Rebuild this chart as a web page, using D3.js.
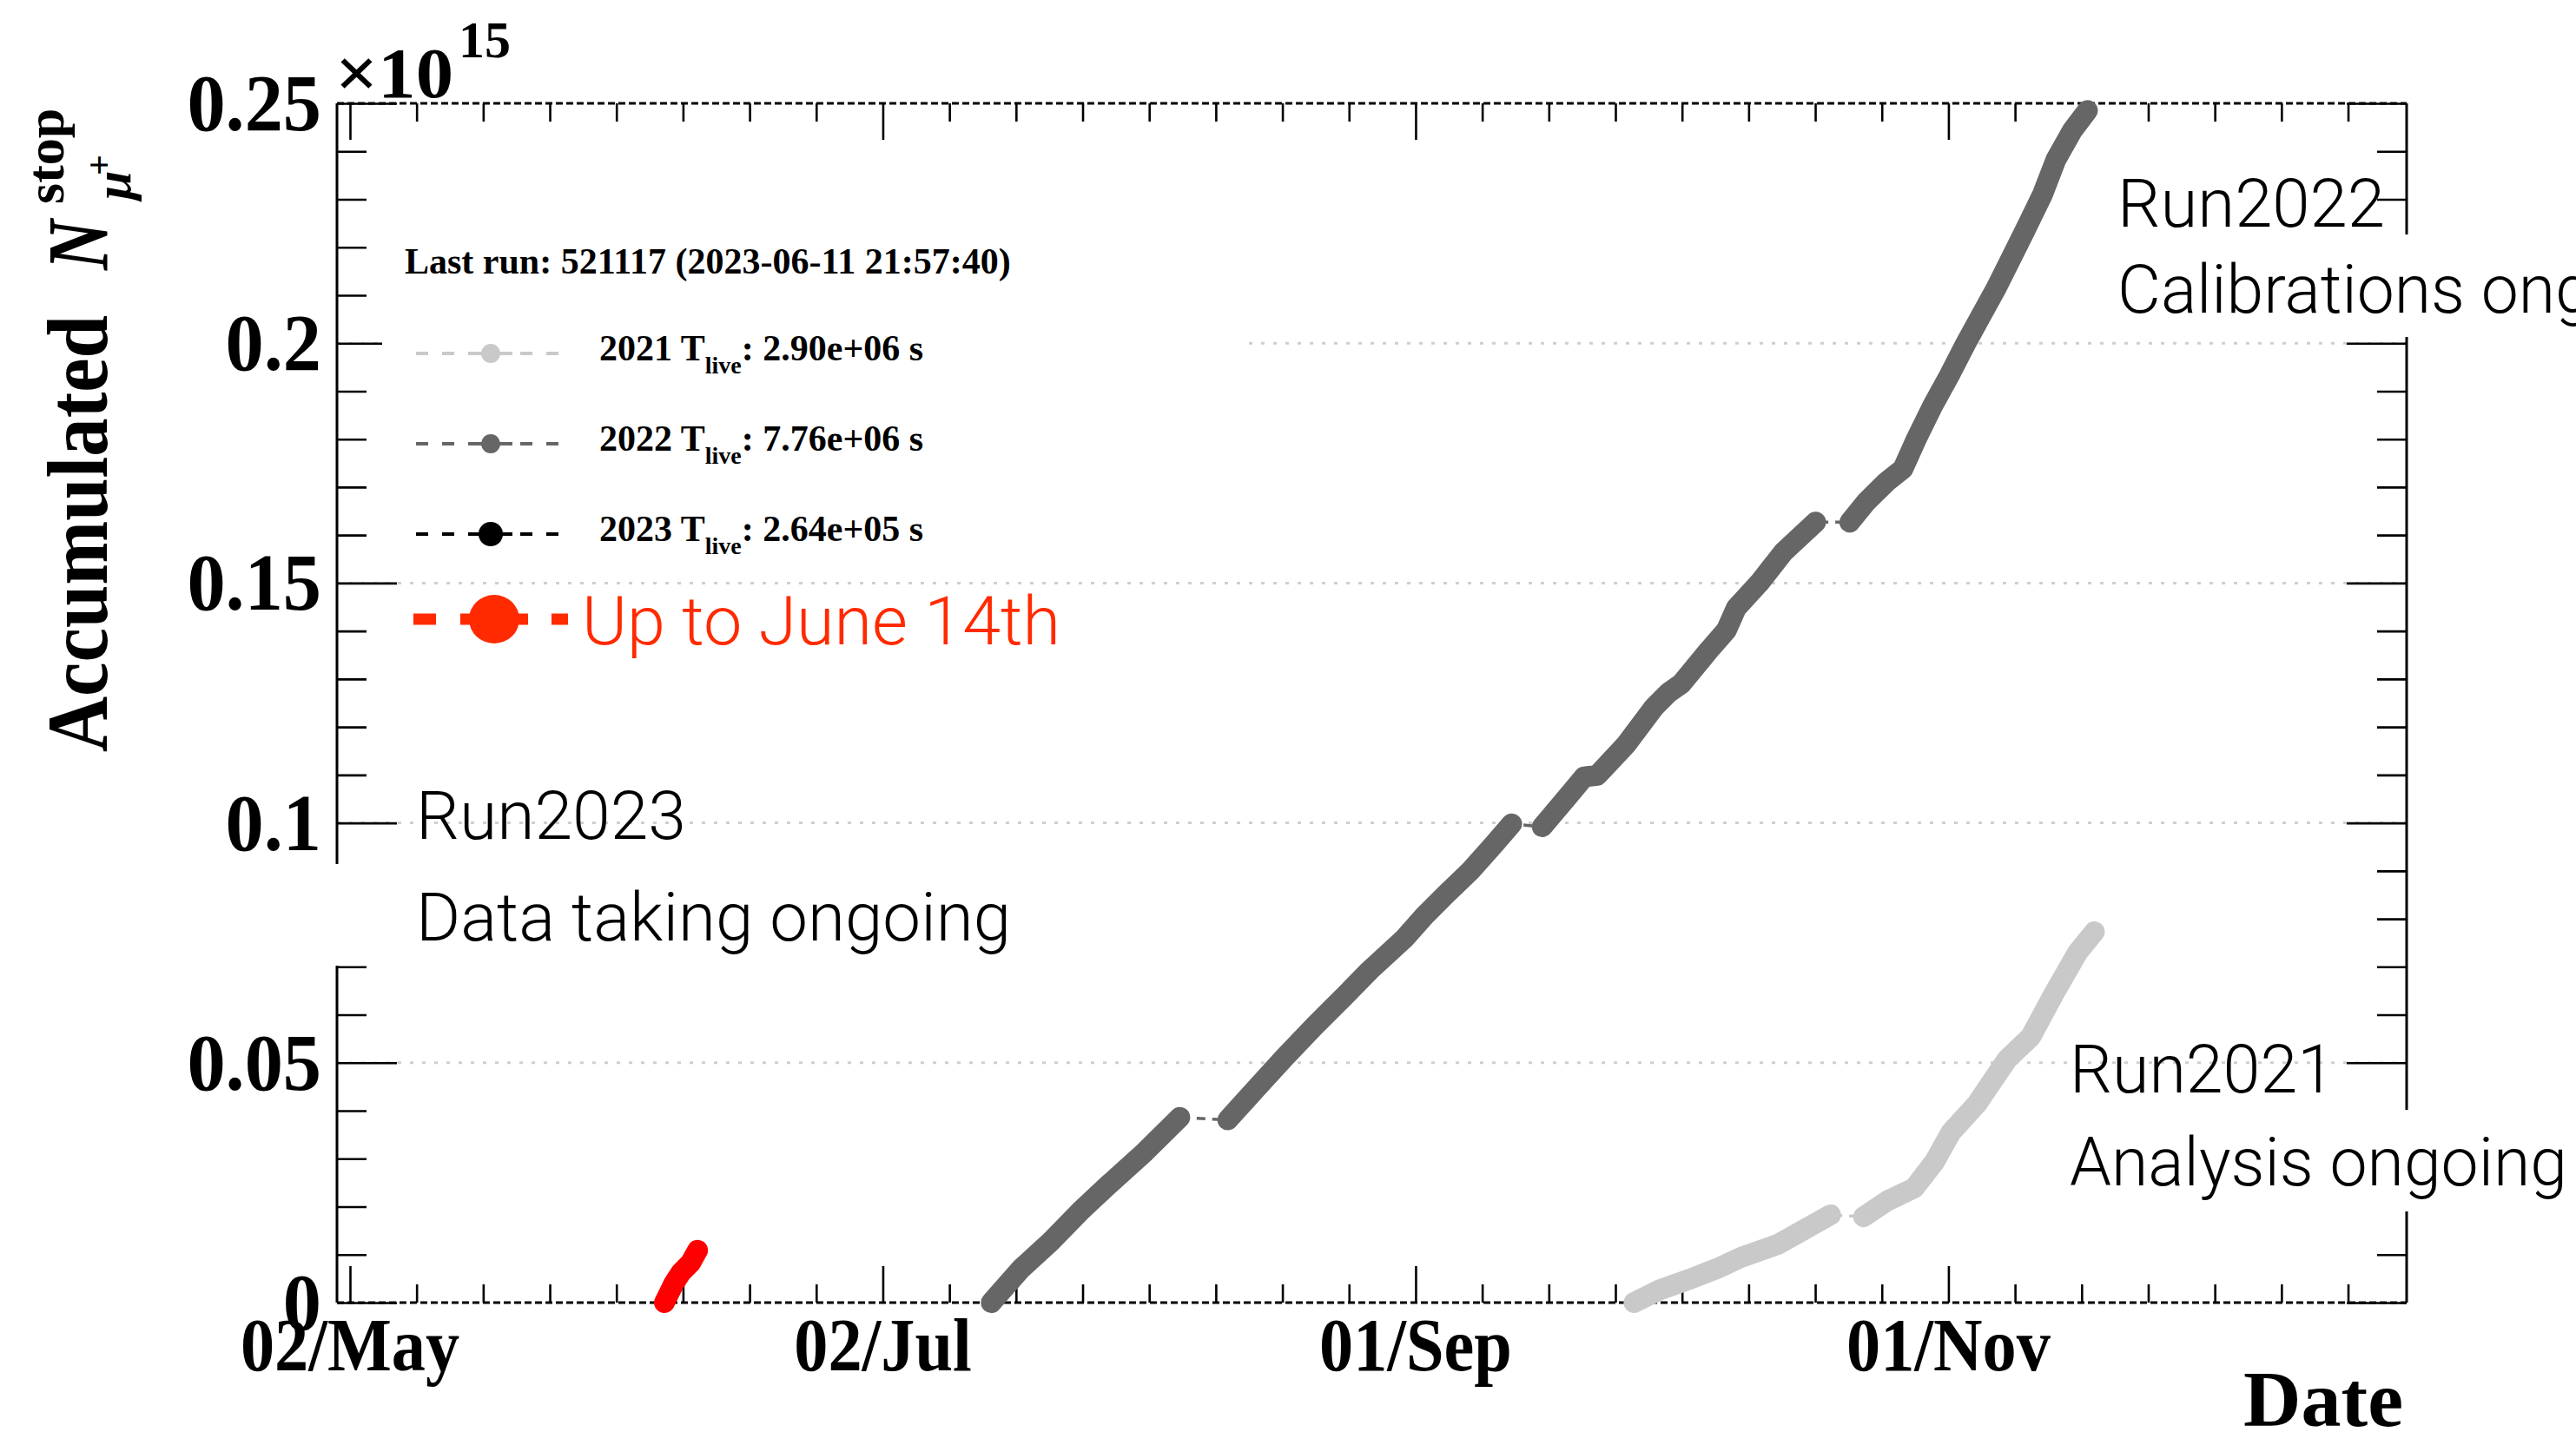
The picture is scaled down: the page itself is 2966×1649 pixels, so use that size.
<!DOCTYPE html>
<html>
<head>
<meta charset="utf-8">
<script src="https://cdn.jsdelivr.net/npm/d3@7"></script>
<style>
  html, body { margin: 0; padding: 0; background: #fff; overflow: hidden; }
  svg { display: block; }
</style>
</head>
<body>
<svg id="chart" width="2966" height="1649"></svg>
<script>
// Accumulated number of stopped mu+ per run year, overlaid on a common calendar.
// Values are in units of 1e15; a null entry marks a break in data taking.

const run2021Dates = ["09-26 00:00", "09-29 00:00", "10-02 10:00", "10-05 12:00", "10-08 05:00",
  "10-12 10:00", "10-15 02:00", "10-18 12:00", null, "10-22 07:00", "10-25 00:00", "10-28 02:00",
  "10-30 10:00", "11-01 07:00", "11-04 07:00", "11-07 17:00", "11-10 10:00", "11-13 02:00",
  "11-15 19:00", "11-17 17:00"];
const run2021Values = [0, 0.0027, 0.0049, 0.0071, 0.0094, 0.0121, 0.0148, 0.0183, null, 0.0179,
  0.0212, 0.0239, 0.0294, 0.0355, 0.0415, 0.0507, 0.0554, 0.0644, 0.0730, 0.0773];

const run2022Dates = ["07-14 10:00", "07-17 19:00", "07-21 05:00", "07-24 14:00", "07-27 12:00",
  "08-01 00:00", "08-05 00:00", null, "08-10 12:00", "08-13 14:00", "08-17 00:00", "08-20 12:00",
  "08-23 22:00", "08-26 17:00", "08-30 17:00", "09-02 00:00", "09-04 14:00", "09-07 05:00",
  "09-10 00:00", "09-12 00:00", null, "09-15 12:00", "09-18 10:00", "09-20 07:00", "09-21 19:00",
  "09-25 02:00", "09-28 07:00", "09-30 00:00", "10-01 10:00", "10-04 14:00", "10-06 14:00",
  "10-07 17:00", "10-10 10:00", "10-13 02:00", "10-16 19:00", null, "10-20 17:00", "10-22 14:00",
  "10-24 22:00", "10-26 19:00", "10-28 07:00", "10-30 05:00", "11-01 02:00", "11-03 00:00",
  "11-06 10:00", "11-08 07:00", "11-09 19:00", "11-11 19:00", "11-13 07:00", "11-15 05:00",
  "11-16 22:00"];
const run2022Values = [0, 0.007, 0.0127, 0.019, 0.024, 0.0314, 0.0386, null, 0.0381, 0.0443,
  0.0511, 0.0578, 0.064, 0.0692, 0.0759, 0.0806, 0.0853, 0.0899, 0.0956, 0.0998, null, 0.0992,
  0.1055, 0.1096, 0.1099, 0.1163, 0.1241, 0.1272, 0.129, 0.136, 0.1402, 0.1448, 0.1502, 0.1564,
  0.1627, null, 0.1627, 0.1669, 0.1711, 0.1738, 0.1799, 0.187, 0.1932, 0.2, 0.2113, 0.2181,
  0.2236, 0.2311, 0.2382, 0.2444, 0.2485];

const run2023Dates = ["06-07 00:00", "06-08 02:00", "06-08 22:00", "06-10 00:00", "06-10 19:00"];
const run2023Values = [0, 0.004, 0.0063, 0.0083, 0.0109];

// Axis definitions
const axisStart = "04-30 12:14";
const axisEnd = "12-23 11:00";
const firstTick = "05-02 00:00";
const tickStepHours = 183;          // 8 sub-divisions per 61 days
const xTickLabels = ["02/May", "02/Jul", "01/Sep", "01/Nov"];
const yTickLabels = ["0", "0.05", "0.1", "0.15", "0.2", "0.25"];
const yMajorValues = [0, 0.05, 0.1, 0.15, 0.2, 0.25];

// Legend content
const legendYears = ["2021", "2022", "2023"];
const legendLive = ["2.90e+06", "7.76e+06", "2.64e+05"];
const lastRunText = "Last run: 521117 (2023-06-11 21:57:40)";

const serif = "'Liberation Serif', 'Times New Roman', serif";
const sans = "'Roboto', 'Liberation Sans', Arial, sans-serif";
const colors = { r2021: "#c9c9c9", r2022: "#666666", r2023: "#000000", now: "#ff0000", nowText: "#ff2a00" };

const svg = d3.select("#chart");
svg.append("rect").attr("width", 2966).attr("height", 1649).attr("fill", "#fff");

const frame = { left: 388, right: 2771, top: 119, bottom: 1500 };
const parseDate = d3.utcParse("%m-%d %H:%M");

const x = d3.scaleUtc()
  .domain([parseDate(axisStart), parseDate(axisEnd)])
  .range([frame.left, frame.right]);
const y = d3.scaleLinear().domain([0, 0.25]).range([frame.bottom, frame.top]);

// Tick values
const xTicks = d3.range(0, 40)
  .map(i => d3.utcHour.offset(parseDate(firstTick), i * tickStepHours))
  .filter(d => d <= x.domain()[1]);
const xMajor = xTicks.filter((d, i) => i % 8 === 0);
const xMinor = xTicks.filter((d, i) => i % 8 !== 0);
const yAll = d3.range(0, 26).map(i => i / 100);
const yMinor = yAll.filter((d, i) => i % 5 !== 0);

// Dotted grid at the labelled y values
svg.append("g").selectAll("line")
  .data(yMajorValues.filter(v => v > 0 && v < 0.25))
  .join("line")
  .attr("x1", frame.left).attr("x2", frame.right)
  .attr("y1", d => y(d)).attr("y2", d => y(d))
  .attr("stroke", "#cfcfcf").attr("stroke-width", 3)
  .attr("stroke-dasharray", "4,10");

// Tick marks on all four sides
function tickLayer(axis, transform) {
  svg.append("g").attr("transform", transform).call(axis)
    .call(g => g.select(".domain").remove())
    .call(g => g.selectAll("line").attr("stroke", "#000").attr("stroke-width", 2.6));
}
tickLayer(d3.axisBottom(x).tickValues(xMinor).tickSize(-21).tickFormat(""), `translate(0,${frame.bottom})`);
tickLayer(d3.axisBottom(x).tickValues(xMajor).tickSize(-42).tickFormat(""), `translate(0,${frame.bottom})`);
tickLayer(d3.axisTop(x).tickValues(xMinor).tickSize(-21).tickFormat(""), `translate(0,${frame.top})`);
tickLayer(d3.axisTop(x).tickValues(xMajor).tickSize(-42).tickFormat(""), `translate(0,${frame.top})`);
tickLayer(d3.axisLeft(y).tickValues(yMinor).tickSize(-34).tickFormat(""), `translate(${frame.left},0)`);
tickLayer(d3.axisLeft(y).tickValues(yMajorValues).tickSize(-69).tickFormat(""), `translate(${frame.left},0)`);
tickLayer(d3.axisRight(y).tickValues(yMinor).tickSize(-34).tickFormat(""), `translate(${frame.right},0)`);
tickLayer(d3.axisRight(y).tickValues(yMajorValues).tickSize(-69).tickFormat(""), `translate(${frame.right},0)`);

// Frame: solid sides, dashed top and bottom
const frameG = svg.append("g").attr("stroke", "#000");
frameG.append("line").attr("x1", frame.left).attr("x2", frame.left)
  .attr("y1", frame.top).attr("y2", frame.bottom).attr("stroke-width", 3);
frameG.append("line").attr("x1", frame.right).attr("x2", frame.right)
  .attr("y1", frame.top).attr("y2", frame.bottom).attr("stroke-width", 3);
[frame.top, frame.bottom].forEach(yy => {
  frameG.append("line").attr("x1", frame.left).attr("x2", frame.right)
    .attr("y1", yy).attr("y2", yy).attr("stroke-width", 3)
    .attr("stroke-dasharray", "8,4");
});

// Series
function toPoints(dates, values) {
  return dates.map((d, i) => (d === null ? null : { date: parseDate(d), value: values[i] }));
}
const series = [
  { pts: toPoints(run2021Dates, run2021Values), color: colors.r2021 },
  { pts: toPoints(run2022Dates, run2022Values), color: colors.r2022 },
  { pts: toPoints(run2023Dates, run2023Values), color: colors.now }
];
const thickLine = d3.line()
  .defined(d => d !== null)
  .x(d => x(d.date)).y(d => y(d.value));
const thinLine = d3.line().x(d => x(d.date)).y(d => y(d.value));

const seriesG = svg.append("g");
series.forEach(s => {
  seriesG.append("path")
    .attr("d", thinLine(s.pts.filter(p => p !== null)))
    .attr("fill", "none").attr("stroke", s.color).attr("stroke-width", 3.5)
    .attr("stroke-dasharray", "10,8");
  seriesG.append("path")
    .attr("d", thickLine(s.pts))
    .attr("fill", "none").attr("stroke", s.color).attr("stroke-width", 24)
    .attr("stroke-linecap", "round").attr("stroke-linejoin", "round");
});

// Legend box
const legend = svg.append("g");
legend.append("rect").attr("x", 440).attr("y", 240).attr("width", 992).attr("height", 330).attr("fill", "#fff");
legend.append("text").attr("x", 466).attr("y", 315)
  .attr("font-family", serif).attr("font-weight", "bold").attr("font-size", 42)
  .text(lastRunText);

const legendColors = [colors.r2021, colors.r2022, colors.r2023];
const markerR = [11, 11, 14];
legendYears.forEach((yr, i) => {
  const cy = 407 + i * 104;
  legend.append("line").attr("x1", 479).attr("x2", 643).attr("y1", cy).attr("y2", cy)
    .attr("stroke", legendColors[i]).attr("stroke-width", 4).attr("stroke-dasharray", "14,16");
  legend.append("line").attr("x1", 541).attr("x2", 590).attr("y1", cy).attr("y2", cy)
    .attr("stroke", legendColors[i]).attr("stroke-width", 4);
  legend.append("circle").attr("cx", 565).attr("cy", cy).attr("r", markerR[i]).attr("fill", legendColors[i]);
  const t = legend.append("text").attr("x", 690).attr("y", cy + 8)
    .attr("font-family", serif).attr("font-weight", "bold").attr("font-size", 42);
  t.append("tspan").text(yr + " T");
  t.append("tspan").attr("font-size", 28).attr("dy", 15).text("live");
  t.append("tspan").attr("dy", -15).text(": " + legendLive[i] + " s");
});

// Current-year legend entry
const nowY = 713, nowX = 569;
const nowG = svg.append("g").attr("stroke", colors.nowText).attr("stroke-width", 13);
[[-93, -67], [-39, 39], [66, 85]].forEach(([a, b]) => {
  nowG.append("line").attr("x1", nowX + a).attr("x2", nowX + b).attr("y1", nowY).attr("y2", nowY);
});
svg.append("ellipse").attr("cx", nowX).attr("cy", nowY).attr("rx", 29).attr("ry", 28).attr("fill", colors.nowText);
svg.append("text").attr("x", 670).attr("y", 742)
  .attr("font-family", sans).attr("font-weight", 300).attr("font-size", 78)
  .attr("fill", colors.nowText).attr("textLength", 551).attr("lengthAdjust", "spacingAndGlyphs")
  .text("Up to June 14th");

// Status notes; second lines sit on white panels
const notes = [
  { title: "Run2023", status: "Data taking ongoing", x: 479, y1: 966, y2: 1083, w1: 311, w2: 685, box: [380, 995, 800, 117] },
  { title: "Run2022", status: "Calibrations ongoing", x: 2438, y1: 261, y2: 360, w1: 308, w2: 692, box: [2420, 270, 546, 118] },
  { title: "Run2021", status: "Analysis ongoing", x: 2383, y1: 1258, y2: 1365, w1: 305, w2: 573, box: [2370, 1278, 596, 117] }
];
notes.forEach(n => {
  svg.append("rect").attr("x", n.box[0]).attr("y", n.box[1]).attr("width", n.box[2]).attr("height", n.box[3]).attr("fill", "#fff");
  svg.append("text").attr("x", n.x).attr("y", n.y1)
    .attr("font-family", sans).attr("font-weight", 300).attr("font-size", 78)
    .attr("textLength", n.w1).attr("lengthAdjust", "spacingAndGlyphs").text(n.title);
  svg.append("text").attr("x", n.x).attr("y", n.y2)
    .attr("font-family", sans).attr("font-weight", 300).attr("font-size", 78)
    .attr("textLength", n.w2).attr("lengthAdjust", "spacingAndGlyphs").text(n.status);
});

// Tick labels
svg.append("g").selectAll("text").data(yMajorValues).join("text")
  .attr("transform", d => `translate(370,${y(d) + 31}) scale(0.95,1)`)
  .attr("text-anchor", "end")
  .attr("font-family", serif).attr("font-weight", "bold").attr("font-size", 93)
  .text((d, i) => yTickLabels[i]);

svg.append("g").selectAll("text").data(xMajor).join("text")
  .attr("transform", d => `translate(${x(d)},1578) scale(0.91,1)`)
  .attr("text-anchor", "middle")
  .attr("font-family", serif).attr("font-weight", "bold").attr("font-size", 86)
  .text((d, i) => xTickLabels[i]);

// Exponent
svg.append("text").attr("x", 386).attr("y", 112)
  .attr("font-family", serif).attr("font-weight", "bold").attr("font-size", 82)
  .attr("textLength", 136).attr("lengthAdjust", "spacingAndGlyphs").text("\u00d710");
svg.append("text").attr("x", 528).attr("y", 66)
  .attr("font-family", serif).attr("font-weight", "bold").attr("font-size", 60).text("15");

// Axis titles
svg.append("text").attr("x", 2767).attr("y", 1642).attr("text-anchor", "end")
  .attr("font-family", serif).attr("font-weight", "bold").attr("font-size", 92).text("Date");

const yt = svg.append("g").attr("transform", "translate(123,866) rotate(-90)")
  .attr("font-family", serif).attr("font-weight", "bold").attr("fill", "#000");
yt.append("text").attr("x", 0).attr("y", 0).attr("font-size", 100)
  .attr("textLength", 503).attr("lengthAdjust", "spacingAndGlyphs").text("Accumulated");
yt.append("text").attr("x", 555).attr("y", 0).attr("font-size", 100).attr("font-style", "italic")
  .attr("textLength", 58).attr("lengthAdjust", "spacingAndGlyphs").text("N");
yt.append("text").attr("x", 631).attr("y", -50).attr("font-size", 62).text("stop");
yt.append("text").attr("x", 636).attr("y", 27).attr("font-size", 60).attr("font-style", "italic").text("\u03bc");
yt.append("text").attr("x", 664).attr("y", 5).attr("font-size", 42).text("+");
</script>
</body>
</html>
